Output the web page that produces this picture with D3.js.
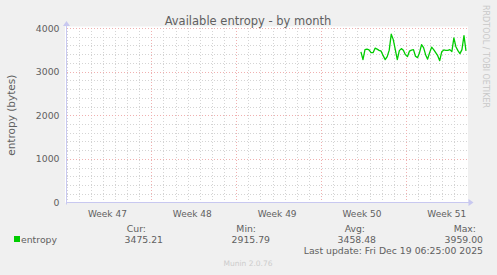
<!DOCTYPE html>
<html>
<head>
<meta charset="utf-8">
<script src="https://d3js.org/d3.v7.min.js"></script>
<style>
  html, body { margin: 0; padding: 0; background: #f0f0f0; }
  svg { display: block; font-family: "DejaVu Sans", sans-serif; }
</style>
</head>
<body>
<script>
// size of the whole picture
const width = 497, height = 275;

// period shown (one month, 33 days) and the sampled series
const periodStart = new Date(Date.UTC(2025, 10, 17, 0, 0));
const periodEnd = new Date(Date.UTC(2025, 11, 20, 0, 0));
const seriesStart = new Date(Date.UTC(2025, 11, 11, 7, 0));
const stepHours = 4;
const entropy = [3451, 3275, 3504, 3515, 3497, 3435, 3435, 3538, 3515, 3488,
  3469, 3366, 3275, 3343, 3492, 3860, 3733, 3504, 3275, 3481,
  3527, 3492, 3389, 3343, 3469, 3492, 3504, 3351, 3320, 3435,
  3618, 3550, 3389, 3286, 3435, 3561, 3504, 3435, 3366, 3252,
  3458, 3497, 3488, 3488, 3504, 3458, 3772, 3572, 3481, 3412,
  3504, 3824, 3475];

const yTicks = [0, 1000, 2000, 3000, 4000];
const legendLabels = ["Cur:", "Min:", "Avg:", "Max:"];
const legendValues = ["3475.21", "2915.79", "3458.48", "3959.00"];

const data = entropy.map((v, i) => ({
  t: new Date(seriesStart.getTime() + i * stepHours * 3600e3), v: v }));

const pLeft = 66.5, pRight = 466.5, pTop = 28, pBottom = 202.5;
const textColor = "#606060";

const x = d3.scaleUtc().domain([periodStart, periodEnd]).range([pLeft, pRight]);
const y = d3.scaleLinear().domain([0, 4000]).range([pBottom, pTop]);

const svg = d3.select("body").append("svg")
  .attr("width", width).attr("height", height);

svg.append("rect").attr("width", width).attr("height", height).attr("fill", "#f0f0f0");

// canvas
svg.append("rect")
  .attr("x", pLeft - 1.5).attr("y", pTop - 1.5)
  .attr("width", pRight - pLeft + 3).attr("height", pBottom - pTop + 1.5)
  .attr("fill", "#ffffff");

// minor grid
const grid = svg.append("g").attr("shape-rendering", "crispEdges");
grid.selectAll(".hmin").data(d3.range(0, 4001, 200).filter(d => d % 1000)).enter()
  .append("line")
  .attr("x1", pLeft).attr("x2", pRight)
  .attr("y1", d => Math.round(y(d)) + 0.5).attr("y2", d => Math.round(y(d)) + 0.5)
  .attr("stroke", "#d4d4d4").attr("stroke-dasharray", "1,2");
grid.selectAll(".vmin").data(d3.utcDay.range(periodStart, periodEnd)).enter()
  .append("line")
  .attr("x1", d => Math.round(x(d)) + 0.5).attr("x2", d => Math.round(x(d)) + 0.5)
  .attr("y1", pTop).attr("y2", pBottom)
  .attr("stroke", "#d4d4d4").attr("stroke-dasharray", "1,2");

// major grid
grid.selectAll(".hmaj").data(yTicks.filter(d => d > 0)).enter()
  .append("line")
  .attr("x1", pLeft).attr("x2", pRight)
  .attr("y1", d => Math.round(y(d)) + 0.5).attr("y2", d => Math.round(y(d)) + 0.5)
  .attr("stroke", "#f0b0b0").attr("stroke-dasharray", "1,2");
grid.selectAll(".vmaj").data(d3.utcMonday.range(d3.utcDay.offset(periodStart, 1), periodEnd)).enter()
  .append("line")
  .attr("x1", d => Math.round(x(d)) + 0.5).attr("x2", d => Math.round(x(d)) + 0.5)
  .attr("y1", pTop).attr("y2", pBottom + 2)
  .attr("stroke", "#f0b0b0").attr("stroke-dasharray", "1,2");

// axes
const axisColor = "#c8c8f0";
svg.append("line").attr("x1", pLeft).attr("x2", pRight + 3)
  .attr("y1", pBottom).attr("y2", pBottom).attr("stroke", axisColor);
svg.append("line").attr("x1", pLeft).attr("x2", pLeft)
  .attr("y1", pBottom + 2).attr("y2", pTop - 3).attr("stroke", axisColor);
svg.append("path")
  .attr("d", `M${pRight + 2},${pBottom - 3.5}L${pRight + 7},${pBottom}L${pRight + 2},${pBottom + 3.5}Z`)
  .attr("fill", axisColor);
svg.append("path")
  .attr("d", `M${pLeft - 3.5},${pTop - 2}L${pLeft},${pTop - 7}L${pLeft + 3.5},${pTop - 2}Z`)
  .attr("fill", axisColor);

// y tick labels
svg.selectAll(".ylab").data(yTicks).enter().append("text")
  .attr("x", pLeft - 7).attr("y", d => y(d) + 3.5)
  .attr("text-anchor", "end").attr("font-size", 9.3).attr("fill", textColor)
  .text(d => d);

// x labels: weeks, centred in the week
svg.selectAll(".xlab").data(d3.utcMonday.range(periodStart, periodEnd)).enter().append("text")
  .attr("x", d => x(d3.utcHour.offset(d, 84)) - 1.5)
  .attr("y", pBottom + 14)
  .attr("text-anchor", "middle").attr("font-size", 9).attr("fill", textColor)
  .text(d => "Week " + d3.utcFormat("%V")(d));

// series
svg.append("path").datum(data)
  .attr("fill", "none").attr("stroke", "#00cc00").attr("stroke-width", 1.3)
  .attr("stroke-linejoin", "round")
  .attr("d", d3.line().x(d => x(d.t)).y(d => y(d.v)));

// title
svg.append("text").attr("x", 248).attr("y", 25)
  .attr("text-anchor", "middle").attr("font-size", 11.5).attr("fill", textColor)
  .text("Available entropy - by month");

// y axis label
svg.append("text")
  .attr("transform", `translate(15,${(pTop + pBottom) / 2}) rotate(-90)`)
  .attr("text-anchor", "middle").attr("font-size", 10.5).attr("fill", textColor)
  .text("entropy (bytes)");

// vertical watermark
svg.append("text")
  .attr("transform", "translate(483,5) rotate(90)")
  .attr("font-size", 8).attr("fill", "#c8c8c8")
  .text("RRDTOOL / TOBI OETIKER");

// legend
svg.append("rect").attr("x", 14).attr("y", 236).attr("width", 6).attr("height", 6)
  .attr("fill", "#00cc00");
svg.append("text").attr("x", 21).attr("y", 243)
  .attr("font-size", 9.3).attr("fill", textColor).text("entropy");

const labelRight = [146, 256, 365, 476];
const valueRight = [163, 270, 376, 483];
svg.selectAll(".lgl").data(legendLabels).enter().append("text")
  .attr("x", (d, i) => labelRight[i]).attr("y", 232)
  .attr("text-anchor", "end").attr("font-size", 9.3).attr("fill", textColor)
  .text(d => d);
svg.selectAll(".lgv").data(legendValues).enter().append("text")
  .attr("x", (d, i) => valueRight[i]).attr("y", 243)
  .attr("text-anchor", "end").attr("font-size", 9.3).attr("fill", textColor)
  .text(d => d);

svg.append("text").attr("x", 483).attr("y", 254)
  .attr("text-anchor", "end").attr("font-size", 9.3).attr("fill", textColor)
  .text("Last update: Fri Dec 19 06:25:00 2025");

svg.append("text").attr("x", 248).attr("y", 266)
  .attr("text-anchor", "middle").attr("font-size", 7.5).attr("fill", "#cccccc")
  .text("Munin 2.0.76");
</script>
</body>
</html>
